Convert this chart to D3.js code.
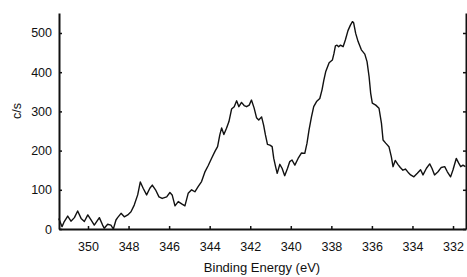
<!DOCTYPE html>
<html><head><meta charset="utf-8">
<script src="https://cdn.jsdelivr.net/npm/d3@7"></script>
<style>
body{margin:0;background:#fff;}
text{font-family:"Liberation Sans",Arial,sans-serif;fill:#111;}
</style></head>
<body><svg id="c" width="467" height="277"></svg>
<script>
const energy = [351.44,351.28,351.17,351.00,350.84,350.67,350.51,350.34,350.18,350.01,349.85,349.69,349.44,349.28,349.20,349.03,348.87,348.75,348.62,348.54,348.37,348.21,348.04,347.88,347.72,347.55,347.42,347.28,347.11,346.95,346.83,346.67,346.50,346.34,346.12,345.96,345.85,345.71,345.55,345.38,345.22,345.06,344.89,344.73,344.57,344.40,344.24,344.07,343.91,343.74,343.61,343.50,343.41,343.30,343.17,343.05,342.92,342.79,342.67,342.56,342.43,342.30,342.18,342.05,341.94,341.81,341.69,341.58,341.44,341.34,341.25,341.15,341.03,340.92,340.84,340.75,340.67,340.54,340.43,340.30,340.16,340.05,339.94,339.80,339.64,339.47,339.31,339.20,339.10,338.98,338.87,338.73,338.57,338.46,338.37,338.28,338.11,337.95,337.87,337.80,337.72,337.64,337.55,337.42,337.31,337.18,337.06,336.96,336.90,336.80,336.68,336.52,336.35,336.24,336.14,336.06,335.98,335.81,335.65,335.53,335.45,335.32,335.16,335.04,334.96,334.85,334.72,334.60,334.47,334.35,334.22,334.09,333.93,333.76,333.60,333.48,333.31,333.15,333.04,332.91,332.74,332.58,332.41,332.28,332.12,332.00,331.84,331.72,331.62,331.51,331.39];
const counts = [27,6,19,33,20,29,46,27,19,36,23,10,29,10,2,12,10,0,23,29,40,31,36,44,61,87,120,104,87,104,112,100,82,78,82,93,87,59,70,64,59,91,100,95,108,121,145,162,180,198,210,240,258,241,257,274,306,312,327,312,323,315,312,316,329,309,284,278,286,265,240,216,214,210,180,159,142,165,155,136,155,172,176,163,180,194,193,219,253,286,312,325,333,355,380,401,424,431,448,467,469,465,469,465,482,506,520,529,526,499,478,457,446,427,389,346,321,316,308,270,227,219,210,184,159,175,165,157,150,153,145,138,133,142,151,138,155,166,155,138,146,157,159,146,133,151,180,168,159,163,159];
const xTicks = [350,348,346,344,342,340,338,336,334,332];
const yTicks = [0,100,200,300,400,500];

const L=59,R=466,T=13,B=229;
const svg=d3.select("#c");
const x=d3.scaleLinear().domain([351.43,331.36]).range([L,R]);
const y=d3.scaleLinear().domain([0,551]).range([B,T]);

const styleAxis=g=>{g.select(".domain").attr("stroke","#111").attr("stroke-width",2);
  g.selectAll(".tick line").attr("stroke","#111").attr("stroke-width",1.5);
  g.selectAll("text").attr("font-size","12.5px").attr("fill","#111").attr("font-family","Liberation Sans, Arial, sans-serif");};

svg.append("g").attr("transform",`translate(0,${B})`)
  .call(d3.axisBottom(x).tickValues(xTicks).tickSizeInner(-3).tickSizeOuter(0).tickPadding(13).tickFormat(d3.format("d")))
  .call(styleAxis);
svg.append("g").attr("transform",`translate(${L},0)`)
  .call(d3.axisLeft(y).tickValues(yTicks).tickSizeInner(-3).tickSizeOuter(0).tickPadding(7).tickFormat(d3.format("d")))
  .call(styleAxis);
svg.append("g").attr("transform",`translate(${R},0)`)
  .call(d3.axisLeft(y).tickValues(yTicks).tickSizeInner(3).tickSizeOuter(0).tickFormat(""))
  .call(styleAxis);

const pts=energy.map((e,i)=>[e,counts[i]]);
svg.append("path").datum(pts)
  .attr("fill","none").attr("stroke","#111").attr("stroke-width",1.4).attr("stroke-linejoin","round")
  .attr("d",d3.line().x(d=>x(d[0])).y(d=>y(d[1])));

svg.append("text").attr("x",262).attr("y",272).attr("text-anchor","middle").attr("font-size","13px").text("Binding Energy (eV)");
svg.append("text").attr("transform","translate(21,111) rotate(-90)").attr("text-anchor","middle").attr("font-size","12.5px").text("c/s");
</script></body></html>
